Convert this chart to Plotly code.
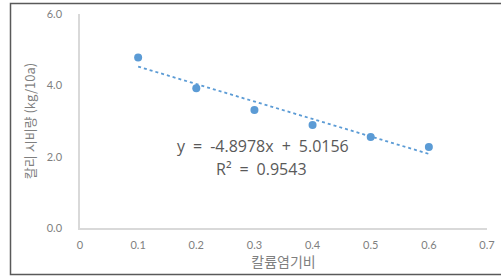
import plotly.graph_objects as go
import numpy as np

x_vals = [0.1, 0.2, 0.3, 0.4, 0.5, 0.6]
y_vals = [4.78, 3.92, 3.31, 2.89, 2.55, 2.27]
slope = -4.8978
intercept = 5.0156
r2 = 0.9543
x_ticks = [0, 0.1, 0.2, 0.3, 0.4, 0.5, 0.6, 0.7]
x_tick_labels = ["0", "0.1", "0.2", "0.3", "0.4", "0.5", "0.6", "0.7"]
y_ticks = [0, 2, 4, 6]
y_tick_labels = ["0.0", "2.0", "4.0", "6.0"]

W, H = 501, 277
L, R, T, B = 80, 14, 14, 49
pw, ph = W - L - R, H - T - B

def px_x(p):
    return (p - L) / pw

def px_y(p):
    return (H - B - p) / ph

blue = "#5b9bd5"
tick_font = dict(family="Lato, Open Sans, sans-serif", size=11, color="#7f7f7f")
eq_font = dict(family="Open Sans, sans-serif", size=16, color="#595959")
sp = "\u2002"

trend_x = np.array([min(x_vals), max(x_vals)])
trend_y = slope * trend_x + intercept

fig = go.Figure()
fig.add_trace(go.Scatter(x=trend_x, y=trend_y, mode="lines",
                         line=dict(color=blue, width=1.8, dash="dot"),
                         showlegend=False, hoverinfo="skip"))
fig.add_trace(go.Scatter(x=x_vals, y=y_vals, mode="markers",
                         marker=dict(color=blue, size=8),
                         showlegend=False))

fig.update_layout(
    width=W, height=H,
    margin=dict(l=L, r=R, t=T, b=B, autoexpand=False),
    paper_bgcolor="white", plot_bgcolor="white",
    xaxis=dict(range=[0, 0.7], tickvals=x_ticks, ticktext=x_tick_labels,
               showgrid=False, zeroline=False, showline=True, automargin=False,
               linecolor="#d9d9d9", linewidth=1.5, ticks="",
               tickfont=tick_font, ticklabelstandoff=6,
               title=dict(text="칼륨염기비", standoff=6,
                          font=dict(family="Noto Sans CJK KR", size=14, color="#7f7f7f"))),
    yaxis=dict(range=[0, 6], tickvals=y_ticks, ticktext=y_tick_labels,
               showgrid=False, zeroline=False, showline=True, automargin=False,
               linecolor="#d9d9d9", linewidth=1.5, ticks="",
               tickfont=tick_font, ticklabelstandoff=14,
               title=dict(text="칼리 시비량 (kg/10a)", standoff=8,
                          font=dict(family="Noto Sans CJK KR", size=13, color="#7f7f7f"))),
    annotations=[
        dict(x=px_x(262.5), y=px_y(159), xref="paper", yref="paper",
             text=f"y{sp}={sp}{slope}x{sp}+{sp}{intercept}", showarrow=False, font=eq_font),
        dict(x=px_x(261.5), y=px_y(182), xref="paper", yref="paper",
             text=f"R²{sp}={sp}{r2}", showarrow=False, font=eq_font),
    ],
    shapes=[
        dict(type="rect", xref="paper", yref="paper",
             x0=px_x(10.5), x1=px_x(510), y0=px_y(274.5), y1=px_y(3.5),
             line=dict(color="#595959", width=1.5), layer="below"),
    ],
)

fig.write_html("out.html", config={"displayModeBar": False},
               post_script="document.body.style.margin='0';document.body.style.overflow='hidden';")
